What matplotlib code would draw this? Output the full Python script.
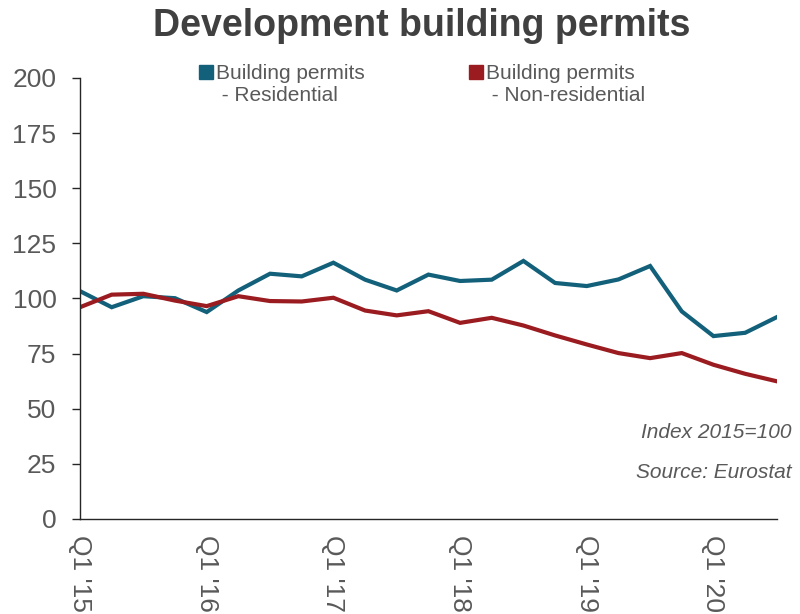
import numpy as np
import matplotlib
matplotlib.use("Agg")
import matplotlib.pyplot as plt
from matplotlib.lines import Line2D

plt.rcParams['font.family'] = ['Liberation Sans', 'DejaVu Sans']

# quarterly index values, Q1 2015 .. Q3 2020 (2015 = 100)
quarters = ["Q1 '15", "Q2 '15", "Q3 '15", "Q4 '15",
            "Q1 '16", "Q2 '16", "Q3 '16", "Q4 '16",
            "Q1 '17", "Q2 '17", "Q3 '17", "Q4 '17",
            "Q1 '18", "Q2 '18", "Q3 '18", "Q4 '18",
            "Q1 '19", "Q2 '19", "Q3 '19", "Q4 '19",
            "Q1 '20", "Q2 '20", "Q3 '20"]
residential = [103.3, 96.0, 101.0, 100.1, 93.8, 103.6, 111.2, 110.0,
               116.2, 108.5, 103.6, 110.8, 107.9, 108.5, 117.0, 107.0,
               105.6, 108.6, 114.7, 94.1, 82.9, 84.4, 91.5]
non_residential = [96.0, 101.7, 102.1, 99.0, 96.5, 101.0, 98.8, 98.6,
                   100.3, 94.5, 92.3, 94.2, 88.9, 91.2, 87.7, 83.2,
                   79.1, 75.2, 72.9, 75.2, 69.9, 65.8, 62.4]

series_names = ["Building permits", "Building permits"]
series_sub = [" - Residential", " - Non-residential"]

col_res = "#13607A"
col_nonres = "#9B1C20"
grey = "#595959"

fig = plt.figure(figsize=(8, 6.14), dpi=100)
ax = fig.add_axes([0.1, 0.155, 0.871, 0.718])

x = np.arange(len(quarters))
ax.plot(x, residential, color=col_res, lw=3, solid_joinstyle="miter")
ax.plot(x, non_residential, color=col_nonres, lw=3, solid_joinstyle="miter")

ax.set_xlim(0, len(quarters) - 1)
ax.set_ylim(0, 200)
ax.set_yticks(np.arange(0, 201, 25))
ax.set_xticks(x[::4])
ax.set_xticklabels(quarters[::4], rotation=270, ha="center", va="top")

for s in ["top", "right"]:
    ax.spines[s].set_visible(False)
for s in ["left", "bottom"]:
    ax.spines[s].set_color("#262626")
    ax.spines[s].set_linewidth(1.0)

ax.tick_params(axis="y", length=6, width=1, color="#262626", pad=11,
               labelsize=19, labelcolor=grey)
ax.tick_params(axis="x", length=0, pad=12, labelsize=19, labelcolor=grey)

fig.text(0.527, 0.958, "Development building permits", ha="center",
         va="center", fontsize=27, fontweight="bold", color="#404040")

# legend drawn by hand: swatch beside the first line of a two-line label
for xm, col, name, sub in zip([0.2569, 0.5944], [col_res, col_nonres],
                              series_names, series_sub):
    fig.add_artist(Line2D([xm], [0.8827], transform=fig.transFigure,
                          ls="none", marker="s", markersize=9.5, color=col))
    fig.text(xm + 0.0125, 0.8713, name, fontsize=15, color=grey,
             va="baseline", ha="left")
    fig.text(xm + 0.0125, 0.8355, sub, fontsize=15, color=grey,
             va="baseline", ha="left")

fig.text(0.989, 0.2866, "Index 2015=100", ha="right", va="baseline",
         fontsize=15, style="italic", color=grey)
fig.text(0.989, 0.2215, "Source: Eurostat", ha="right", va="baseline",
         fontsize=15, style="italic", color=grey)

fig.savefig("out.png", dpi=100)
